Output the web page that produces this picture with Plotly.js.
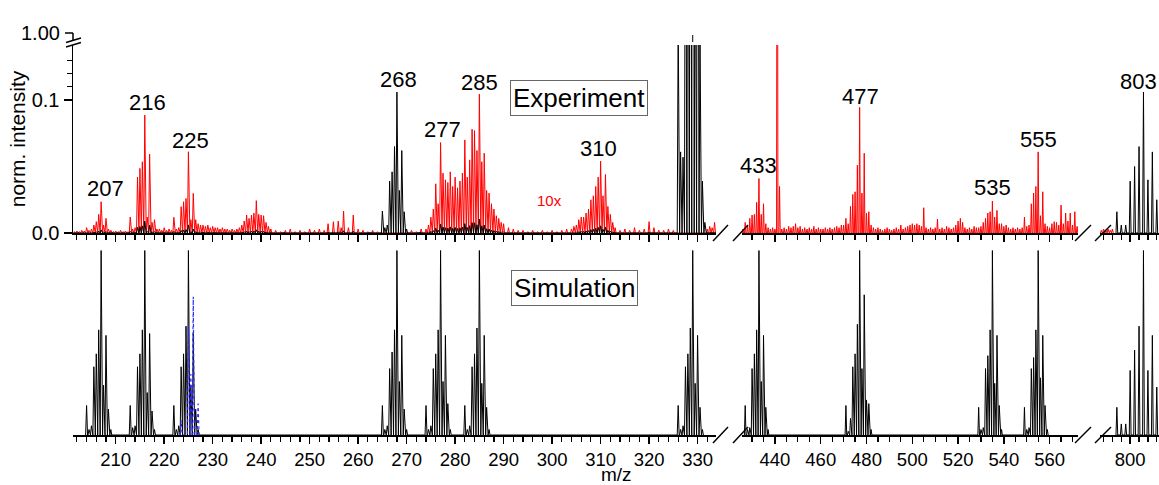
<!DOCTYPE html>
<html><head><meta charset="utf-8">
<script src="https://cdn.plot.ly/plotly-3.0.1.min.js"></script>
<style>html,body{margin:0;padding:0;background:#fff}#chart{width:1159px;height:485px}</style>
</head><body><div id="chart"></div>
<script>
// ===== Experiment (normalized intensity, 1x; red trace shows 10x) =====
// segment 1 (m/z 201-334)
const expMzA = [201.5,202,202.5,203,203.5,204,204.5,205,205.5,206,206.5,207,207.5,208,208.5,209,209.5,210,210.5,211,211.5,212,212.5];
const expIntA = [0.0001,0.00015,0.0001,0.0002,0.00015,0.0004,0.0002,0.0003,0.0006,0.00085,0.0014,0.00235,0.0006,0.0011,0.0003,0.0002,0.0001,0.00015,0.0001,0.0002,0.0001,0.00015,0.0001];
const expMz216 = [213,213.5,214,214.5,215,215.5,216,216.5,217,217.5,218,218.5,219,219.5,220,220.5,221,221.5];
const expInt216 = [0.0012,0.0003,0.0004,0.0042,0.00486,0.00536,0.00887,0.0012,0.00594,0.0008,0.001,0.0003,0.0003,0.0002,0.0004,0.0002,0.0003,0.0002];
const expMz225 = [222,222.5,223,223.5,224,224.5,225,225.5,226,226.5,227,227.5,228,228.5,229,229.5,230,230.5,231,231.5,232,232.5,233,233.5,234,234.5,235,235.5];
const expInt225 = [0.00118,0.0003,0.0004,0.00198,0.00235,0.0026,0.00611,0.001,0.00298,0.001,0.0007,0.0006,0.0006,0.0005,0.0006,0.0004,0.0005,0.0004,0.0004,0.0003,0.0004,0.0003,0.0003,0.0002,0.0003,0.0002,0.0003,0.0004];
const expMz239 = [236,236.5,237,237.5,238,238.5,239,239.5,240,240.5,241,241.5,242,243,244,245,246,247,248,249,250,251,252,253,253.8,254.9,255.9,256.5,257,258,259,260,261,262,263,264];
const expInt239 = [0.0006,0.0009,0.00135,0.0011,0.00135,0.0015,0.00243,0.0014,0.00135,0.0013,0.0008,0.0005,0.0003,0.0002,0.0001,0.0002,0.0003,0.0001,0.0002,0.0001,0.0003,0.0002,0.0003,0.0002,0.0007,0.00085,0.0009,0.0004,0.00165,0.0004,0.00135,0.0003,0.0002,0.0001,0.0002,0.0001];
const expMz268 = [265,265.5,266,266.5,267,267.5,268,268.5,269,269.5,270];
const expInt268 = [0.0165,0.004,0.006,0.039,0.046,0.065,0.106,0.032,0.062,0.016,0.003];
const expMz285 = [271,272,273,274,274.5,275,275.5,276,276.5,277,277.5,278,278.5,279,279.5,280,280.5,281,281.5,282,282.5,283,283.5,284,284.5,285,285.5,286,286.5,287,287.5,288,288.5,289,289.5,290,291,292];
const expInt285 = [0.0002,0.0001,0.0003,0.0003,0.0006,0.0012,0.0018,0.0037,0.0022,0.0068,0.0045,0.004,0.0038,0.0046,0.0035,0.0042,0.0034,0.0039,0.0045,0.007,0.0042,0.0055,0.0078,0.0077,0.0062,0.01045,0.00536,0.006,0.0032,0.003,0.0022,0.0018,0.0013,0.0011,0.0008,0.0007,0.0004,0.0003];
const expMz310 = [293,294,295,296,297,298,299,300,301,302,303,304,304.5,305,305.5,306,306.5,307,307.5,308,308.5,309,309.5,310,310.5,311,311.5,312,312.5,313,314,315,316,317,318,319,320,321,322,323,324,325];
const expInt310 = [0.0002,0.0002,0.0001,0.0002,0.0001,0.0002,0.0001,0.0002,0.0001,0.0002,0.0003,0.0003,0.0005,0.0006,0.001,0.0012,0.0012,0.0015,0.0018,0.0025,0.0028,0.0035,0.0042,0.0054,0.0028,0.0044,0.002,0.0014,0.0008,0.0004,0.0002,0.0003,0.0002,0.0004,0.0002,0.0003,0.00085,0.0004,0.0002,0.0002,0.0003,0.0002];
const expMz329 = [326,326.5,327,327.5,328,328.5,329,329.5,330,330.5,331,331.5];
const expInt329 = [0.16,0.061,0.057,0.37,0.44,0.57,1.0,0.27,0.54,0.15,0.039,0.008];
const expMzTail = [332,332.5,333,333.5];
const expIntTail = [0.0003,0.0005,0.0004,0.0008];
// segment 2 (m/z 426-572)
const expMz433 = [426,427,428,429,430,431,432,433,434,435,436,437,438,439,440,441,442];
const expInt433 = [0.0003,0.0008,0.0006,0.0011,0.00135,0.0014,0.0023,0.0041,0.0014,0.0022,0.0007,0.0004,0.0003,0.0004,0.0003,0.05,0.0035];
const expMzN1 = [443,444,445,446,447,448,449,450,451,452,453,454,455,456,457,458,459,460,461,462,463,464,465,466,467,468,469];
const expIntN1 = [0.0003,0.0004,0.0003,0.0005,0.0004,0.0005,0.0007,0.0004,0.0005,0.0003,0.0004,0.0003,0.0004,0.0003,0.0005,0.0003,0.0004,0.0003,0.0003,0.0004,0.0003,0.0004,0.0003,0.0004,0.0005,0.0004,0.0006];
const expMz477 = [470,471,472,473,474,475,476,477,478,479,480,481,482,483];
const expInt477 = [0.0006,0.0011,0.0007,0.002,0.0029,0.0031,0.0051,0.00945,0.003,0.006,0.0015,0.0016,0.0006,0.0004];
const expMzN2 = [484,485,486,487,488,489,490,491,492,493,494,495,496,497,498,499,500,501,502,503,504,505,506,507,508,509,510,511,512,513,514,515,516,517,518,519,520,521,522,523,524,525,526,527,528];
const expIntN2 = [0.0003,0.0004,0.0003,0.0002,0.0003,0.0004,0.0003,0.0002,0.0003,0.0004,0.0003,0.0006,0.0003,0.0004,0.0005,0.0006,0.0007,0.0006,0.0007,0.0006,0.0005,0.0019,0.0004,0.0003,0.0004,0.0003,0.0004,0.00105,0.0003,0.0004,0.0003,0.0005,0.0004,0.0003,0.0004,0.0006,0.0009,0.0011,0.0008,0.0004,0.0003,0.0004,0.0003,0.0005,0.0004];
const expMz535 = [529,530,531,532,533,534,535,536,537,538,539,540,541,542,543,544,545,546,547];
const expInt535 = [0.0004,0.0005,0.0008,0.0011,0.0015,0.0016,0.0024,0.0012,0.0017,0.0007,0.0007,0.0005,0.0006,0.0004,0.0003,0.0004,0.0003,0.0004,0.0003];
const expMz555 = [548,549,550,551,552,553,554,555,556,557,558,559,560,561,562,563,564,565,566,567,568,569,570,571,572];
const expInt555 = [0.0004,0.0012,0.0005,0.0006,0.0022,0.003,0.0035,0.0061,0.0013,0.0031,0.0007,0.0005,0.0004,0.0007,0.00085,0.0008,0.0006,0.0021,0.0007,0.0015,0.0009,0.0015,0.0006,0.0016,0.0005];
// segment 3 (m/z 793-807)
const expMzLead3 = [793.5,794,794.5,795,795.5,796];
const expIntLead3 = [0.0002,0.0003,0.0002,0.0003,0.0002,0.0003];
const expMz803 = [797,798,799,800,801,802,803,804,805,806];
const expInt803 = [0.016,0.006,0.006,0.039,0.05,0.065,0.106,0.04,0.061,0.025];

// ===== Simulation (relative intensity) =====
const simMz207 = [204,204.5,205,205.5,206,206.5,207,207.5,208,208.5,209];
const sim207 = [0.16,0.03,0.05,0.37,0.44,0.57,1.0,0.27,0.54,0.14,0.03];
const simMz216 = [213,213.5,214,214.5,215,215.5,216,216.5,217,217.5,218];
const sim216 = [0.16,0.04,0.05,0.37,0.44,0.57,1.0,0.23,0.55,0.13,0.03];
const simMz225 = [222,222.5,223,223.5,224,224.5,225,225.5,226,226.5,227];
const sim225 = [0.16,0.03,0.05,0.37,0.44,0.59,1.0,0.27,0.55,0.14,0.03];
const simMz268 = [265,265.5,266,266.5,267,267.5,268,268.5,269,269.5,270];
const sim268 = [0.16,0.03,0.05,0.36,0.45,0.57,1.0,0.29,0.54,0.14,0.03];
const simMz277 = [274,274.5,275,275.5,276,276.5,277,277.5,278,278.5,279];
const sim277 = [0.16,0.03,0.05,0.36,0.44,0.57,1.0,0.29,0.54,0.17,0.03];
const simMz285 = [282,282.5,283,283.5,284,284.5,285,285.5,286,286.5,287];
const sim285 = [0.16,0.03,0.05,0.37,0.44,0.58,1.0,0.28,0.54,0.15,0.03];
const simMz329 = [326,326.5,327,327.5,328,328.5,329,329.5,330,330.5,331];
const sim329 = [0.16,0.03,0.05,0.37,0.44,0.58,1.0,0.28,0.54,0.15,0.03];
const simMz433 = [427,428,429,430,431,432,433,434,435,436,437];
const sim433 = [0.16,0.03,0.04,0.36,0.44,0.57,1.0,0.29,0.54,0.15,0.03];
const simMz477 = [471,472,473,474,475,476,477,478,479,480,481,482];
const sim477 = [0.16,0.02,0.09,0.37,0.44,0.6,1.0,0.36,0.76,0.19,0.17,0.03];
const simMz535 = [529,530,531,532,533,534,535,536,537,538,539];
const sim535 = [0.15,0.03,0.04,0.36,0.43,0.57,1.0,0.28,0.54,0.16,0.03];
const simMz555 = [549,550,551,552,553,554,555,556,557,558,559];
const sim555 = [0.15,0.03,0.04,0.36,0.42,0.57,1.0,0.31,0.54,0.16,0.03];
const simMz803 = [797,798,799,800,801,802,803,804,805,806];
const sim803 = [0.15,0.06,0.06,0.35,0.46,0.59,1.0,0.35,0.54,0.26];
const simBlueMz = [223.5,225,225.5,226,227];
const simBlue = [0.08,0.59,0.33,0.75,0.17];

// peak labels
const peakLabels = ['207','216','225','268','277','285','310','329','433','477','535','555','803'];

// ===== drawing =====
function sticks(groups, scale, hw) {
  const x = [], y = [];
  groups.forEach(([mz, v]) => {
    for (let i = 0; i < mz.length; i++) {
      x.push(mz[i] - hw, mz[i], mz[i] + hw);
      y.push(0, v[i] * scale, 0);
    }
  });
  return {x, y};
}
function line(xy, color, xa, ya, extra) {
  return Object.assign({type:'scatter', mode:'lines', x:xy.x, y:xy.y, xaxis:xa, yaxis:ya,
    line:{color:color, width:1}, hoverinfo:'skip', showlegend:false}, extra||{});
}
const redSeg1 = [[expMzA,expIntA],[expMz216,expInt216],[expMz225,expInt225],[expMz239,expInt239],[expMz285,expInt285],[expMz310,expInt310],[expMzTail,expIntTail]];
const blackSeg1 = [[expMzA,expIntA],[expMz216,expInt216],[expMz225,expInt225],[expMz239,expInt239],[expMz268,expInt268],[expMz285,expInt285],[expMz310,expInt310],[expMz329,expInt329],[expMzTail,expIntTail]];
const redSeg2 = [[expMz433,expInt433],[expMzN1,expIntN1],[expMz477,expInt477],[expMzN2,expIntN2],[expMz535,expInt535],[expMz555,expInt555]];

const RED = '#ff0000';
const traces = [
  line(sticks(redSeg1, 10, 0.2), RED, 'x', 'y'),
  line(sticks(redSeg2, 10, 0.3), RED, 'x2', 'y'),
  line(sticks([[expMzLead3,expIntLead3]], 10, 0.2), RED, 'x3', 'y'),
  line(sticks(blackSeg1, 1, 0.2), '#000', 'x', 'y'),
  line(sticks([[expMz803,expInt803]], 1, 0.2), '#000', 'x3', 'y'),
  line(sticks([[simMz207,sim207],[simMz216,sim216],[simMz225,sim225],[simMz268,sim268],[simMz277,sim277],[simMz285,sim285],[simMz329,sim329]], 1, 0.2), '#000', 'x4', 'y2'),
  line(sticks([[simMz433,sim433],[simMz477,sim477],[simMz535,sim535],[simMz555,sim555]], 1, 0.35), '#000', 'x5', 'y2'),
  line(sticks([[simMz803,sim803]], 1, 0.2), '#000', 'x6', 'y2'),
  line(sticks([[simBlueMz,simBlue]], 1, 0.2), '#2b2bff', 'x4', 'y2', {line:{color:'#2b2bff', width:1.2, dash:'dot'}})
];

const W = 1159, H = 485, L = 73;
const fx = p => (p - L) / (W - L);
const fy = p => (H - p) / H;
const FONT = 'Liberation Sans, Arial, sans-serif';
const seg = [
  {dom:[0, fx(716)], range:[201.2, 333.8], tick0:200, dtick:10, minor:2},
  {dom:[fx(742), fx(1078)], range:[425.6, 572.4], tick0:420, dtick:20, minor:5},
  {dom:[fx(1100), 1], range:[793.2, 806.5], tick0:800, dtick:10, minor:2}
];
function xax(s, anchor, labels) {
  return {domain:s.dom, range:s.range, anchor:anchor, showline:true, linecolor:'#000', linewidth:1.5,
    ticks:'outside', tickcolor:'#000', tickwidth:1.5, ticklen:7, tickmode:'linear', tick0:s.tick0, dtick:s.dtick,
    minor:{ticks:'outside', tickmode:'linear', tick0:s.tick0, dtick:s.minor, ticklen:5, tickwidth:1.2, tickcolor:'#000'},
    showticklabels:labels, tickfont:{family:FONT, size:18.5, color:'#000'},
    showgrid:false, zeroline:false, layer:'below traces', fixedrange:true};
}
const layout = {
  width:W, height:H, margin:{l:L, r:0, t:0, b:0}, paper_bgcolor:'#fff', plot_bgcolor:'rgba(0,0,0,0)',
  showlegend:false, font:{family:FONT, color:'#000'},
  xaxis: xax(seg[0], 'y', false), xaxis2: xax(seg[1], 'y', false), xaxis3: xax(seg[2], 'y', false),
  xaxis4: xax(seg[0], 'y2', true), xaxis5: xax(seg[1], 'y2', true), xaxis6: xax(seg[2], 'y2', true),
  yaxis: {domain:[fy(233), fy(45)], range:[0, 0.1414], anchor:'x', showline:true, linecolor:'#000', linewidth:1.5,
    ticks:'outside', tickcolor:'#000', tickwidth:1.5, ticklen:8, tickmode:'array', tickvals:[0, 0.1], ticktext:['0.0','0.1'],
    minor:{ticks:'outside', tickmode:'array', tickvals:[0.11,0.12,0.13], ticklen:5, tickwidth:1.2, tickcolor:'#000'},
    tickfont:{family:FONT, size:20, color:'#000'}, showgrid:false, zeroline:false, layer:'below traces', fixedrange:true,
    title:{text:'norm. intensity', font:{family:FONT, size:21, color:'#000'}, standoff:0}},
  yaxis2: {domain:[fy(435), fy(245)], range:[0, 1.03], anchor:'x4', visible:false, fixedrange:true},
  shapes: [],
  annotations: []
};
const S = layout.shapes;
function pline(x0, y0, x1, y1, w) {
  S.push({type:'line', xref:'paper', yref:'paper', x0:fx(x0), y0:fy(y0), x1:fx(x1), y1:fy(y1), line:{color:'#000', width:w||1.5}, layer:'above'});
}
// y-axis top extension, 1.00 tick and break marks
pline(73, 40, 73, 33);
pline(65, 33, 73, 33);
pline(66, 47, 81, 42.5);
pline(66, 42.5, 81, 38);
// x-axis break slashes on both panels
[233, 435].forEach(ay => {
  [[713, 728], [733, 748], [1075, 1091], [1095, 1111]].forEach(([a, b]) => pline(a, ay + 8, b, ay - 8));
});
// small tick under the 329 label
S.push({type:'line', xref:'x', yref:'paper', x0:329, x1:329, y0:fy(42), y1:fy(35), line:{color:'#000', width:1}});

const A = layout.annotations;
const peakPos = [[207.8,'x',0.0338],[216.6,'x',0.0981],[225.5,'x',0.0692],[268.3,'x',0.1158],[277.3,'x',0.0782],[285.05,'x',0.1135],[309.5,'x',0.0632],[328.9,'x',0.1583],
  [432.7,'x2',0.0511],[477.4,'x2',0.103],[535.1,'x2',0.0346],[555.2,'x2',0.0707],[806.5,'x3',0.1143]];
peakLabels.forEach((t, i) => {
  const p = peakPos[i];
  A.push({text:t, x:p[0], xref:p[1], y:p[2], yref:'y', showarrow:false, xanchor:(t === '803' ? 'right' : 'center'), yanchor:'middle',
    font:{family:FONT, size:22, color:'#000'}});
});
A.push({text:'1.00', x:fx(62), xref:'paper', y:fy(33), yref:'paper', showarrow:false, xanchor:'right', yanchor:'middle', font:{family:FONT, size:20, color:'#000'}});
A.push({text:'Experiment', x:305.5, xref:'x', y:0.1015, yref:'y', showarrow:false, font:{family:FONT, size:26, color:'#000'},
  bordercolor:'#666', borderwidth:1, borderpad:2});
A.push({text:'Simulation', x:304.6, xref:'x4', y:0.797, yref:'y2', showarrow:false, font:{family:FONT, size:26, color:'#000'},
  bordercolor:'#666', borderwidth:1, borderpad:2});
A.push({text:'10x', x:299.4, xref:'x', y:0.0248, yref:'y', showarrow:false, font:{family:FONT, size:15, color:RED}});
A.push({text:'m/z', x:fx(616), xref:'paper', xanchor:'center', y:fy(474), yref:'paper', yanchor:'middle', showarrow:false, font:{family:FONT, size:19, color:'#000'}});

Plotly.newPlot('chart', traces, layout, {staticPlot:true, displayModeBar:false});
</script></body></html>
